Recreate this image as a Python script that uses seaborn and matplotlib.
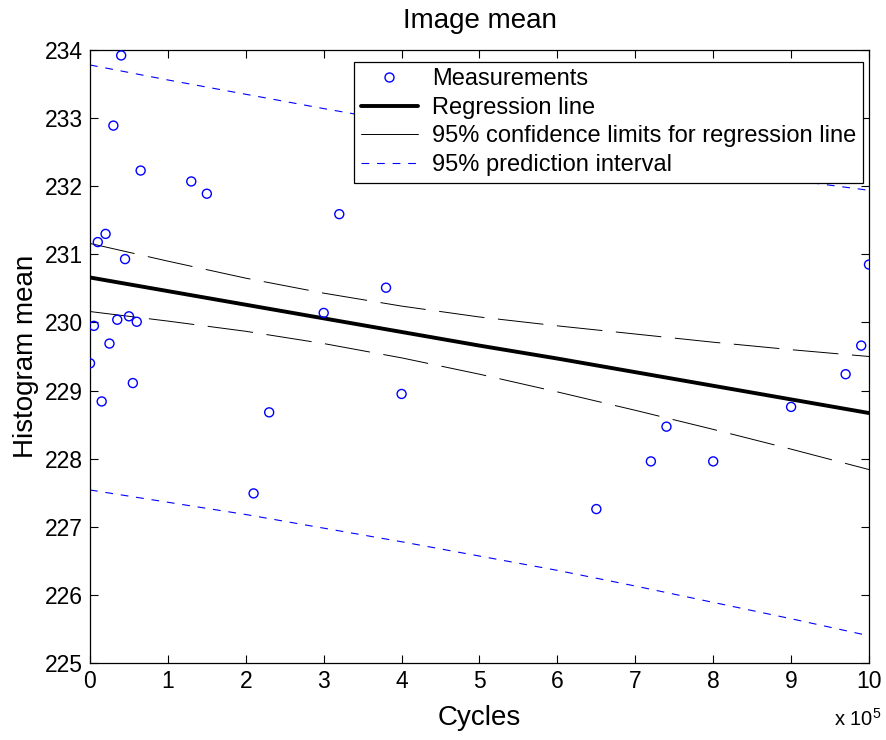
import matplotlib
matplotlib.use("Agg")
import matplotlib.pyplot as plt
from matplotlib.lines import Line2D
import seaborn as sns
import pandas as pd

# ---- data (x in units of 1e5 cycles) ----
cycles = [0.0, 0.05, 0.1, 0.15, 0.2, 0.25, 0.3, 0.35, 0.4, 0.45, 0.5, 0.55, 0.6, 0.65,
          1.3, 1.5, 2.1, 2.3, 3.0, 3.2, 3.8, 4.0,
          6.5, 7.2, 7.4, 8.0, 9.0, 9.7, 9.9, 10.0]
hist_mean = [229.40, 229.95, 231.18, 228.84, 231.30, 229.69, 232.89, 230.04, 233.92, 230.93,
             230.09, 229.11, 230.01, 232.23,
             232.07, 231.89, 227.49, 228.68, 230.14, 231.59, 230.51, 228.95,
             227.26, 227.96, 228.47, 227.96, 228.76, 229.24, 229.66, 230.85]

grid_x = [0, 1, 2, 3, 4, 5, 6, 7, 8, 9, 10]
reg_line = [230.66, 230.46, 230.26, 230.06, 229.86, 229.66, 229.47, 229.27, 229.07, 228.87, 228.67]
ci_upper = [231.16, 230.90, 230.65, 230.43, 230.24, 230.08, 229.95, 229.83, 229.71, 229.60, 229.50]
ci_lower = [230.16, 230.02, 229.87, 229.69, 229.48, 229.24, 228.98, 228.71, 228.43, 228.14, 227.84]
pi_upper = [233.78, 233.56, 233.35, 233.14, 232.94, 232.76, 232.58, 232.41, 232.25, 232.09, 231.94]
pi_lower = [227.54, 227.36, 227.18, 226.98, 226.78, 226.57, 226.36, 226.13, 225.89, 225.65, 225.40]

x_ticks = list(range(0, 11))
y_ticks = list(range(225, 235))

sns.set_theme(style="white")
plt.rcParams['font.family'] = ['Liberation Sans', 'DejaVu Sans']
plt.rcParams['mathtext.fontset'] = 'custom'
plt.rcParams['mathtext.rm'] = 'Liberation Sans'
plt.rcParams['mathtext.it'] = 'Liberation Sans'
plt.rcParams['text.color'] = 'black'
plt.rcParams['axes.labelcolor'] = 'black'
plt.rcParams['xtick.color'] = 'black'
plt.rcParams['ytick.color'] = 'black'

fig = plt.figure(figsize=(8.87, 7.40), dpi=100)
ax = fig.add_axes([90/887, 1 - 663/740, (869-90)/887, (663-50)/740])

meas = pd.DataFrame({"x": cycles, "y": hist_mean})
lines = pd.DataFrame({"x": grid_x, "reg": reg_line, "ciu": ci_upper, "cil": ci_lower,
                      "piu": pi_upper, "pil": pi_lower})

sns.scatterplot(data=meas, x="x", y="y", ax=ax, marker="o", s=42,
                facecolor="none", edgecolor="#0000ff", linewidth=1.0, zorder=3)
sns.lineplot(data=lines, x="x", y="reg", ax=ax, color="black", linewidth=2.8, zorder=2)
for col in ["ciu", "cil"]:
    sns.lineplot(data=lines, x="x", y=col, ax=ax, color="black", linewidth=0.7,
                 zorder=2).lines[-1].set_dashes((47, 14))
for col in ["piu", "pil"]:
    sns.lineplot(data=lines, x="x", y=col, ax=ax, color="#0000ff", linewidth=0.8,
                 zorder=2).lines[-1].set_dashes((7, 7))

ax.set_xlim(0, 10)
ax.set_ylim(225, 234)
ax.set_xticks(x_ticks)
ax.set_yticks(y_ticks)
ax.set_xticklabels([str(t) for t in x_ticks])
ax.set_yticklabels([str(t) for t in y_ticks])
ax.tick_params(direction="in", length=6, width=0.8, labelsize=16.5, colors="black",
               top=True, right=True, bottom=True, left=True, pad=5)
for s in ax.spines.values():
    s.set_color("black")
    s.set_linewidth(0.9)

ax.set_xlabel("Cycles", fontsize=20, labelpad=9)
ax.set_ylabel("Histogram mean", fontsize=20, labelpad=4)
ax.set_title("Image mean", fontsize=20, pad=16)
fig.text(834/887, 1 - 719/740, r"x 10$^{5}$", fontsize=14.5, ha="left", va="center")

handles = [
    Line2D([], [], linestyle="none", marker="o", markersize=6.5, markerfacecolor="none",
           markeredgecolor="#0000ff", markeredgewidth=1.0),
    Line2D([], [], color="black", linewidth=2.8),
    Line2D([], [], color="black", linewidth=0.7),
    Line2D([], [], color="#0000ff", linewidth=0.8, dashes=(7, 7)),
]
labels = ["Measurements", "Regression line", "95% confidence limits for regression line",
          "95% prediction interval"]
leg = ax.legend(handles, labels, loc="upper right", bbox_to_anchor=(0.992, 0.981),
                borderaxespad=0, fontsize=17, frameon=True, fancybox=False,
                edgecolor="black", framealpha=1, handlelength=2.4, handletextpad=0.6,
                labelspacing=0.28, borderpad=0.28)
leg.get_frame().set_linewidth(0.9)

fig.savefig("out.png", dpi=100, facecolor="white")
